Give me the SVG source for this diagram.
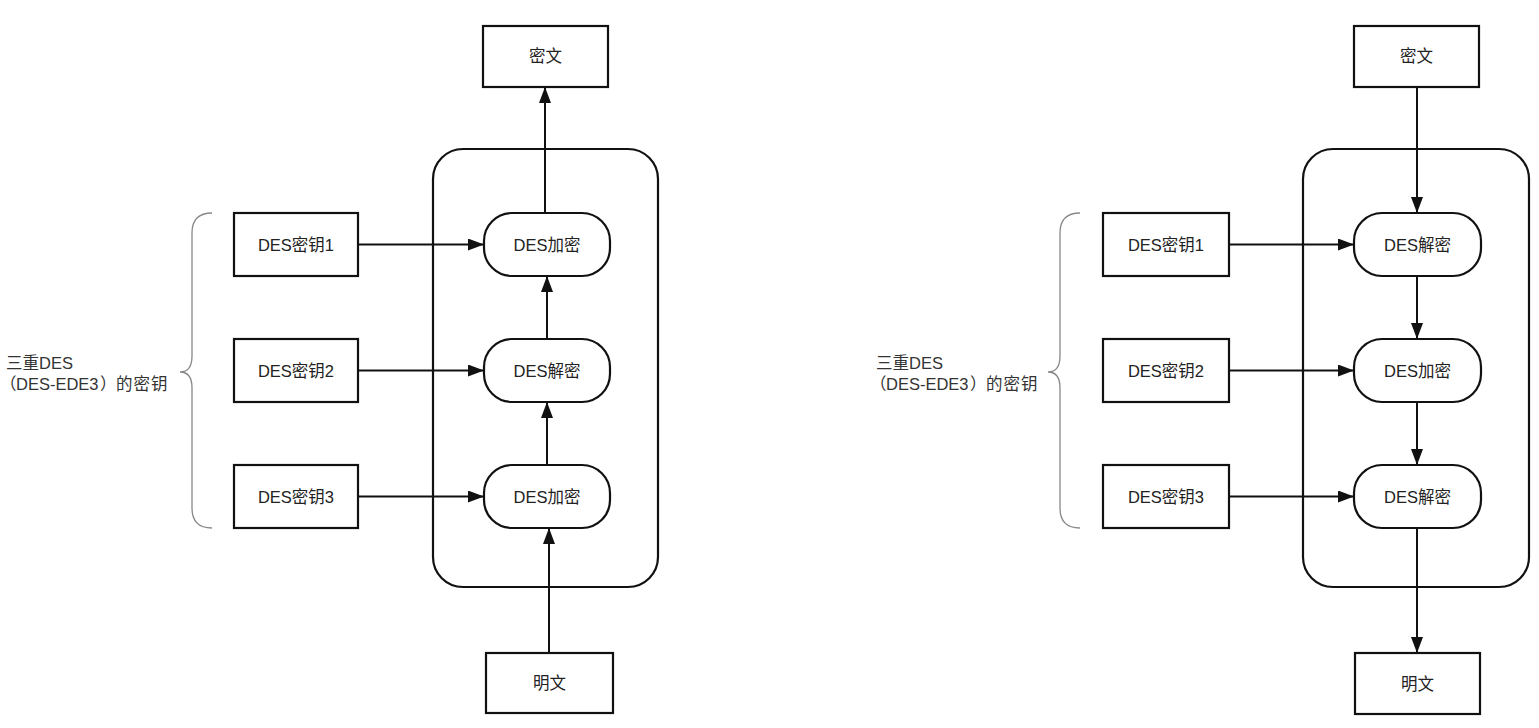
<svg xmlns="http://www.w3.org/2000/svg" width="1539" height="728" viewBox="0 0 1539 728">
<style>
.box{fill:#fff;stroke:#111;stroke-width:2.2}
.cont{fill:none;stroke:#111;stroke-width:2.2}
.t{font-family:"Liberation Sans","Noto Sans CJK SC",sans-serif;font-size:16.5px;fill:#222;text-anchor:middle;dominant-baseline:central}
.lbl{font-family:"Liberation Sans","Noto Sans CJK SC",sans-serif;font-size:16.5px;fill:#333}
.brace{fill:none;stroke:#888;stroke-width:1.3}
.c{fill:none;stroke:#111;stroke-width:2;marker-end:url(#ah)}
</style>
<defs>
<marker id="ah" viewBox="0 0 16 12" refX="16" refY="6" markerWidth="16" markerHeight="12" markerUnits="userSpaceOnUse" orient="auto">
<path d="M0,0 L16,6 L0,12 Z" fill="#111"/>
</marker>
</defs>
<rect width="1539" height="728" fill="#fff"/>

<!-- Left diagram -->
<g id="left-container"><rect class="cont" x="433" y="149" width="225" height="438" rx="30"/></g>
<g id="left-label">
<text class="lbl" x="6" y="369">三重DES</text>
<text class="lbl" y="390"><tspan x="0">（</tspan><tspan x="16">DES-EDE3</tspan><tspan x="100">）</tspan><tspan x="116" letter-spacing="1">的密钥</tspan></text>
<path class="brace" d="M212,213 Q192,213 192,233 L192,356 Q192,372 180,372 Q192,372 192,388 L192,508 Q192,528 212,528"/>
</g>
<g id="left-ciphertext"><rect class="box" x="483" y="26" width="125" height="61"/><text class="t" x="545.5" y="56">密文</text></g>
<g id="left-plaintext"><rect class="box" x="486" y="653" width="127" height="60"/><text class="t" x="549.5" y="683">明文</text></g>
<g id="left-key1"><rect class="box" x="234" y="213" width="124" height="63"/><text class="t" x="296" y="244.5">DES密钥1</text></g>
<g id="left-key2"><rect class="box" x="234" y="339" width="124" height="63"/><text class="t" x="296" y="370.5">DES密钥2</text></g>
<g id="left-key3"><rect class="box" x="234" y="465" width="124" height="63"/><text class="t" x="296" y="496.5">DES密钥3</text></g>
<g id="left-enc1"><rect class="box" x="484" y="213" width="126" height="63" rx="28"/><text class="t" x="547" y="244.5">DES加密</text></g>
<g id="left-dec2"><rect class="box" x="484" y="339" width="126" height="63" rx="28"/><text class="t" x="547" y="370.5">DES解密</text></g>
<g id="left-enc3"><rect class="box" x="484" y="465" width="126" height="63" rx="28"/><text class="t" x="547" y="496.5">DES加密</text></g>

<!-- Right diagram -->
<g id="right-container"><rect class="cont" x="1303" y="149" width="226" height="438" rx="30"/></g>
<g id="right-label">
<text class="lbl" x="876" y="369">三重DES</text>
<text class="lbl" y="390"><tspan x="870">（</tspan><tspan x="886">DES-EDE3</tspan><tspan x="970">）</tspan><tspan x="986" letter-spacing="1">的密钥</tspan></text>
<path class="brace" d="M1080,213 Q1060,213 1060,233 L1060,356 Q1060,372 1048,372 Q1060,372 1060,388 L1060,508 Q1060,528 1080,528"/>
</g>
<g id="right-ciphertext"><rect class="box" x="1354" y="26" width="125" height="61"/><text class="t" x="1416.5" y="56">密文</text></g>
<g id="right-plaintext"><rect class="box" x="1355" y="653" width="125" height="61"/><text class="t" x="1417.5" y="684">明文</text></g>
<g id="right-key1"><rect class="box" x="1103" y="213" width="126" height="63"/><text class="t" x="1166" y="244.5">DES密钥1</text></g>
<g id="right-key2"><rect class="box" x="1103" y="339" width="126" height="63"/><text class="t" x="1166" y="370.5">DES密钥2</text></g>
<g id="right-key3"><rect class="box" x="1103" y="465" width="126" height="63"/><text class="t" x="1166" y="496.5">DES密钥3</text></g>
<g id="right-dec1"><rect class="box" x="1354" y="213" width="127" height="63" rx="28"/><text class="t" x="1417.5" y="244.5">DES解密</text></g>
<g id="right-enc2"><rect class="box" x="1354" y="339" width="127" height="63" rx="28"/><text class="t" x="1417.5" y="370.5">DES加密</text></g>
<g id="right-dec3"><rect class="box" x="1354" y="465" width="127" height="63" rx="28"/><text class="t" x="1417.5" y="496.5">DES解密</text></g>

<g id="connectors">
<path class="c" d="M358,244.5 H484"/>
<path class="c" d="M358,370.5 H484"/>
<path class="c" d="M358,496.5 H484"/>
<path class="c" d="M549,653 V528"/>
<path class="c" d="M547,465 V402"/>
<path class="c" d="M547,339 V276"/>
<path class="c" d="M545,213 V87"/>

<path class="c" d="M1229,244.5 H1354"/>
<path class="c" d="M1229,370.5 H1354"/>
<path class="c" d="M1229,496.5 H1354"/>
<path class="c" d="M1417,87 V213"/>
<path class="c" d="M1417,276 V339"/>
<path class="c" d="M1417,402 V465"/>
<path class="c" d="M1417,528 V653"/>
</g>
</svg>
